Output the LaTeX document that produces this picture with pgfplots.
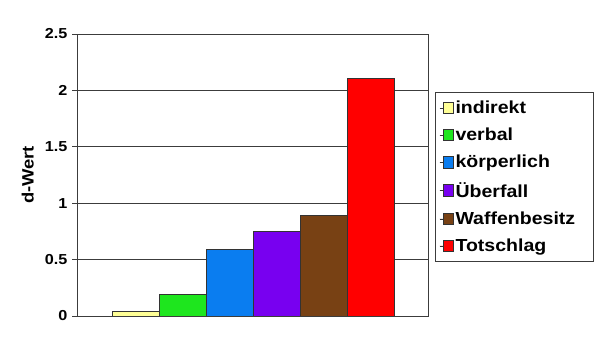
\documentclass[border=0pt]{standalone}
\usepackage{fontspec}
\setmainfont{Liberation Sans}
\newfontfamily\legfont[FakeStretch=1.12]{Liberation Sans}
\usepackage{pgfplots}
\pgfplotsset{compat=1.18}
\definecolor{cInd}{RGB}{255,255,150}
\definecolor{cVer}{RGB}{30,230,30}
\definecolor{cKoe}{RGB}{10,125,240}
\definecolor{cUeb}{RGB}{120,0,240}
\definecolor{cWaf}{RGB}{120,65,20}
\definecolor{cTot}{RGB}{255,0,0}
\definecolor{gridc}{RGB}{60,60,60}
\begin{document}
\begin{tikzpicture}
\begin{axis}[
  at={(77bp,37bp)}, anchor=south west,
  scale only axis, width=351bp, height=282bp,
  xmin=-0.245, xmax=7.22, ymin=0, ymax=2.5,
  ytick={0,0.5,1,1.5,2,2.5},
  yticklabels={\textbf{0},\textbf{0.5},\textbf{1},\textbf{1.5},\textbf{2},\textbf{2.5}},
  xtick=\empty,
  ymajorgrids, grid style={gridc, line width=0.8pt},
  axis line style={gridc, line width=0.8pt},
  tick style={gridc, line width=0.8pt},
  ytick align=outside, tick pos=left, major tick length=5bp,
  yticklabel style={font=\legfont\fontsize{14.5}{16}\selectfont, xshift=-1bp},
  ylabel={\textbf{d-Wert}}, ylabel style={font=\legfont\fontsize{16.5}{18}\selectfont, at={(rel axis cs:-0.14,0.5)}, anchor=center},
  legend style={at={(rel axis cs:1.02,0.794)}, anchor=north west,
    draw=gridc, line width=0.8pt, font=\legfont\fontsize{17.5}{19}\selectfont\bfseries,
    inner xsep=4bp, inner ysep=7bp, row sep=10bp, legend columns=1,
    nodes={inner sep=1.5bp}},
  legend cell align=left,
  legend image code/.code={\path (0bp,0bp) -- (14bp,0bp); \draw[#1, line width=0.5pt] (4bp,-5.5bp) rectangle (13.5bp,6bp);},
  bar width=1, every axis plot/.append style={ybar, bar shift=0pt, draw=black!80, line width=0.6pt},
]
\addplot[fill=cInd] coordinates {(1,0.039)};
\addlegendentry{indirekt}
\addplot[fill=cVer] coordinates {(2,0.19)};
\addlegendentry{verbal}
\addplot[fill=cKoe] coordinates {(3,0.588)};
\addlegendentry{körperlich}
\addplot[fill=cUeb] coordinates {(4,0.755)};
\addlegendentry{Überfall}
\addplot[fill=cWaf] coordinates {(5,0.896)};
\addlegendentry{Waffenbesitz\rule{13bp}{0pt}}
\addplot[fill=cTot] coordinates {(6,2.11)};
\addlegendentry{Totschlag}
\end{axis}
\pgfresetboundingbox
\useasboundingbox (0bp,0bp) rectangle (607bp,353bp);
\end{tikzpicture}
\end{document}
